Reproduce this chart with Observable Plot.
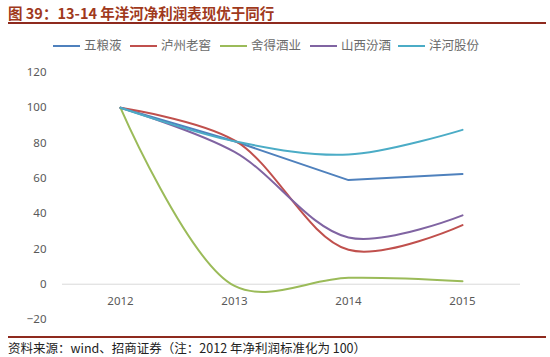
<!DOCTYPE html>
<html>
<head>
<meta charset="utf-8">
<script src="https://cdn.jsdelivr.net/npm/d3@7"></script>
<script src="https://cdn.jsdelivr.net/npm/@observablehq/plot@0.6"></script>
<style>
  body { margin: 0; background: #fff; font-family: "Noto Sans CJK SC", "Noto Sans", sans-serif; }
  #wrap { position: relative; width: 550px; height: 357px; overflow: hidden; }
  #title { position: absolute; left: 8px; top: 3px; font-size: 14.5px; font-weight: bold; color: #A0391C; white-space: nowrap; line-height: 20px; }
  #tline { position: absolute; left: 8px; top: 22px; width: 538px; height: 2px; background: #8E2A1E; }
  #legend { position: absolute; top: 37px; left: 0; width: 550px; height: 16px; }
  .li { position: absolute; top: 0; font-size: 12.5px; color: #6b6b6b; line-height: 16px; white-space: nowrap; }
  .sw { display: inline-block; width: 27px; height: 2px; vertical-align: middle; margin-right: 4px; position: relative; top: -1px; }
  #chart { position: absolute; left: 0; top: 58px; }
  #bline { position: absolute; left: 8px; top: 336px; width: 538px; height: 1.5px; background: #8E2A1E; }
  #source { position: absolute; left: 8px; top: 339px; font-size: 12.5px; color: #222; white-space: nowrap; line-height: 17px; }
</style>
</head>
<body>
<div id="wrap">
  <div id="title">图 39：13-14 年洋河净利润表现优于同行</div>
  <div id="tline"></div>
  <div id="legend"></div>
  <div id="chart"></div>
  <div id="bline"></div>
  <div id="source">资料来源：wind、招商证券（注：2012 年净利润标准化为 100）</div>
</div>
<script>
const years = [2012, 2013, 2014, 2015];
const seriesNames = ["五粮液", "泸州老窖", "舍得酒业", "山西汾酒", "洋河股份"];
const wuliangye = [100, 81, 59, 62.5];
const luzhou = [100, 81.5, 19.5, 33.5];
const shede = [100, -1, 3.6, 1.7];
const fenjiu = [100, 75, 26.5, 39];
const yanghe = [100, 81, 73.5, 87.5];
const yTicks = [-20, 0, 20, 40, 60, 80, 100, 120];

const colors = ["#4F81BD", "#C0504D", "#9BBB59", "#8064A2", "#4BACC6"];
const values = [wuliangye, luzhou, shede, fenjiu, yanghe];
const curves = ["linear", "catmull-rom", "catmull-rom", "catmull-rom", "catmull-rom"];

const data = [];
seriesNames.forEach((s, i) => years.forEach((y, j) => data.push({series: s, year: y, value: values[i][j]})));

// legend
const legendLefts = [53, 130, 220, 310, 398];
const legend = document.getElementById("legend");
seriesNames.forEach((s, i) => {
  const el = document.createElement("div");
  el.className = "li";
  el.style.left = legendLefts[i] + "px";
  el.innerHTML = `<span class="sw" style="background:${colors[i]}"></span>${s}`;
  legend.appendChild(el);
});

const lineMarks = seriesNames.map((s, i) =>
  Plot.line(data.filter(d => d.series === s), {
    x: "year", y: "value", stroke: colors[i], strokeWidth: 2, curve: curves[i]
  })
);

const chart = Plot.plot({
  width: 550,
  height: 275,
  marginLeft: 62,
  marginRight: 30,
  marginTop: 14,
  marginBottom: 14,
  style: { fontFamily: "Noto Sans, sans-serif", fontSize: "11.5px", color: "#595959", background: "transparent" },
  x: { type: "point", domain: years, padding: 0.5, axis: null },
  y: { domain: [-20, 120], ticks: yTicks, tickSize: 0, tickPadding: 16, label: null, line: false },
  marks: [
    Plot.ruleY([0], { stroke: "#D9D9D9", strokeWidth: 1 }),
    ...lineMarks,
    Plot.text(years, { x: d => d, y: 0, dy: 17, text: d => String(d), fill: "#595959", fontSize: 11.5 })
  ]
});
document.getElementById("chart").appendChild(chart);
</script>
</body>
</html>
